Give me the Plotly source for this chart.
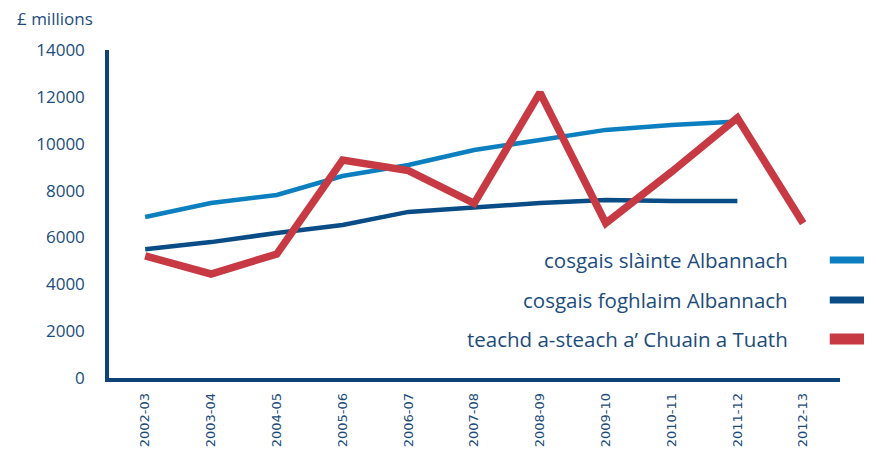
import plotly.graph_objects as go

years = ["2002-03", "2003-04", "2004-05", "2005-06", "2006-07", "2007-08",
         "2008-09", "2009-10", "2010-11", "2011-12", "2012-13"]
health = [6870, 7470, 7810, 8620, 9090, 9730, 10160, 10590, 10800, 10950, None]
education = [5500, 5800, 6190, 6530, 7090, 7300, 7470, 7600, 7550, 7560, None]
oil = [5210, 4440, 5290, 9300, 8850, 7450, 12180, 6610, 8800, 11100, 6610]
y_ticks = [0, 2000, 4000, 6000, 8000, 10000, 12000, 14000]

names = ["cosgais slàinte Albannach", "cosgais foghlaim Albannach",
         "teachd a-steach a\u2019 Chuain a Tuath"]
colors = ["#0b7fc0", "#0a4c86", "#c73a43"]
widths = [4.5, 4.5, 7.5]
sample_widths = [7, 7, 11]
series = [health, education, oil]

TXT = "#1b4c7c"
FONT = "Open Sans"

fig = go.Figure()
for name, vals, col, w in zip(names, series, colors, widths):
    fig.add_trace(go.Scatter(x=years, y=vals, mode="lines", name=name,
                             line=dict(color=col, width=w), showlegend=False,
                             connectgaps=False))

# custom legend: right-aligned text with line sample on the right
leg_y = [0.36, 0.238, 0.119]
for name, col, yy, sw in zip(names, colors, leg_y, sample_widths):
    fig.add_annotation(x=0.9316, y=yy, xref="paper", yref="paper", text=name,
                       showarrow=False, xanchor="right", yanchor="middle",
                       font=dict(family=FONT, size=20.5, color=TXT))
    fig.add_shape(type="line", xref="paper", yref="paper", x0=0.986, x1=1.05,
                  y0=yy, y1=yy, line=dict(color=col, width=sw))

fig.add_annotation(x=-0.128, y=1.095, xref="paper", yref="paper", text="£ millions",
                   showarrow=False, xanchor="left", yanchor="middle",
                   font=dict(family=FONT, size=17, color=TXT))

fig.update_layout(
    width=872, height=457,
    margin=dict(l=101, r=40, t=42, b=87),
    paper_bgcolor="white", plot_bgcolor="white",
    font=dict(family=FONT, color=TXT),
    xaxis=dict(type="category", range=[-0.55, 10.56], showgrid=False, zeroline=False,
               showline=True, linecolor="#0f4275", linewidth=3.5,
               tickangle=-90, tickfont=dict(family="DejaVu Sans", size=13, color=TXT),
               ticks="", ticklabelstandoff=6),
    yaxis=dict(range=[0, 14000], tickvals=y_ticks, ticktext=[str(v) for v in y_ticks],
               showgrid=False, zeroline=False, showline=True,
               linecolor="#0f4275", linewidth=3.5, ticks="",
               tickfont=dict(family=FONT, size=17, color=TXT), ticklabelstandoff=17),
)

fig.write_html("out.html")
